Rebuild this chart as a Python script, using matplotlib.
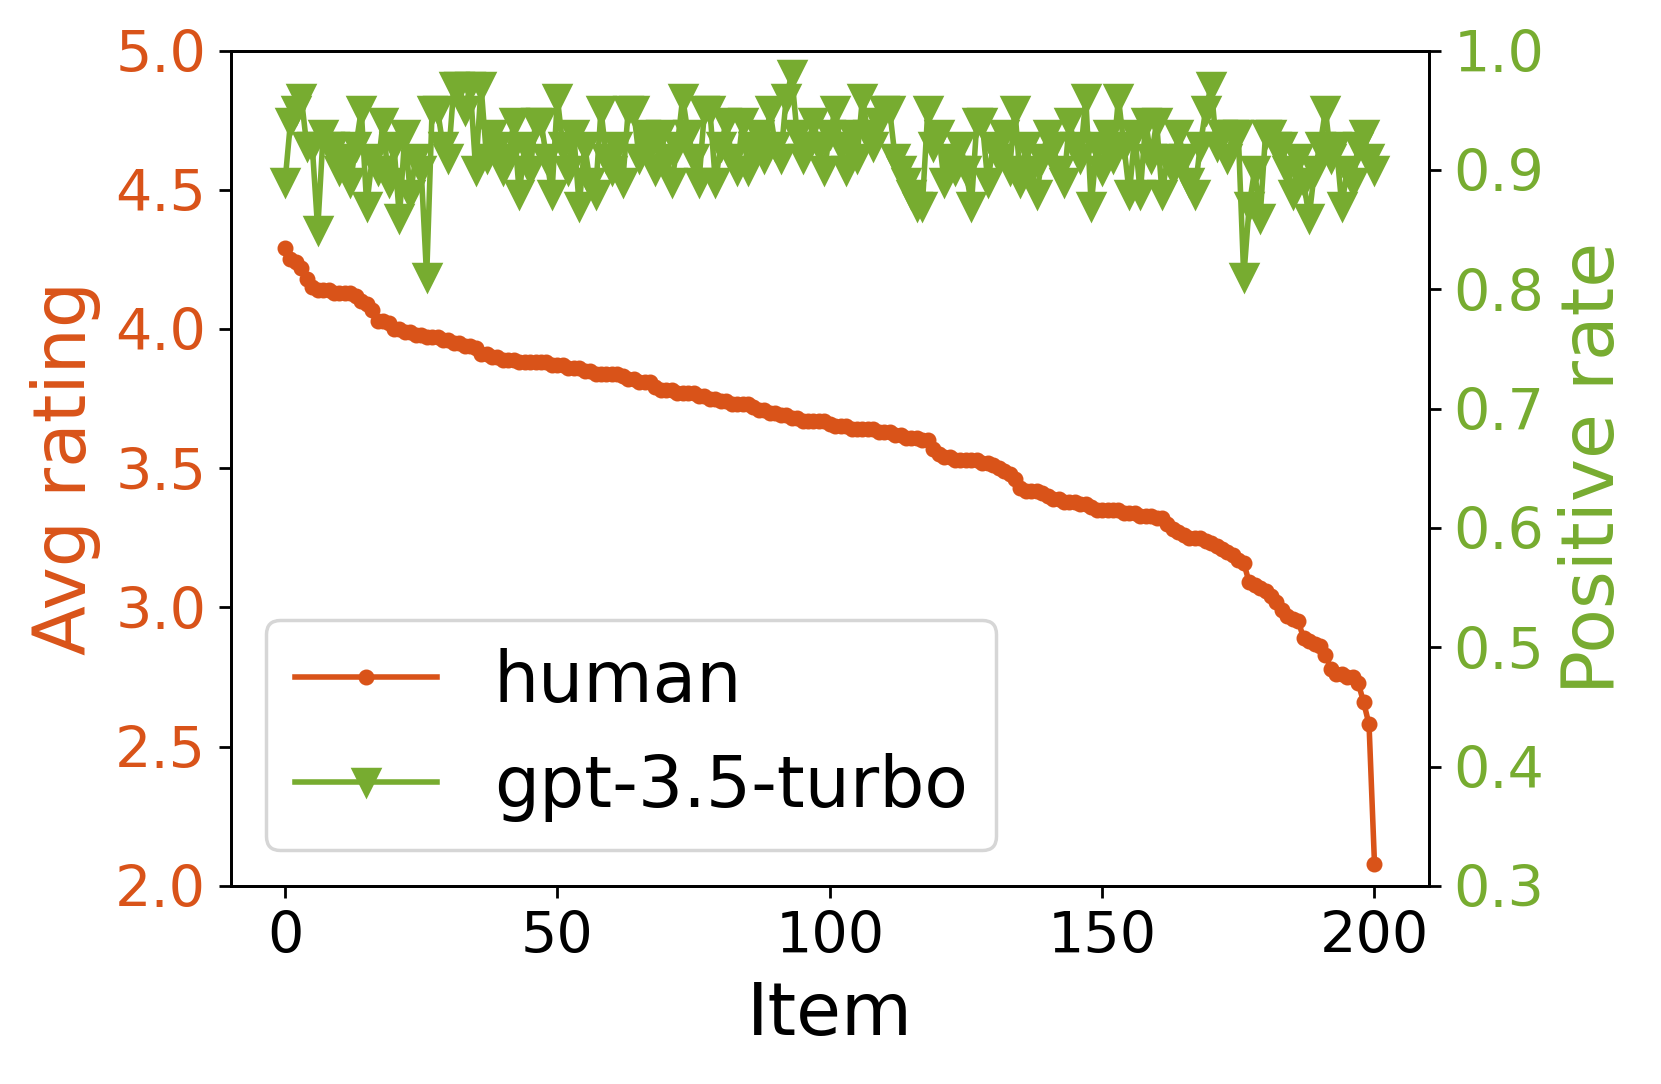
import matplotlib
matplotlib.use("Agg")
import matplotlib.pyplot as plt
import numpy as np

# ---------------- data ----------------
human = [
    4.29, 4.25, 4.24, 4.22, 4.18, 4.15, 4.14, 4.14, 4.14, 4.13,
    4.13, 4.13, 4.13, 4.12, 4.10, 4.09, 4.07, 4.03, 4.03, 4.02,
    4.00, 4.00, 3.99, 3.99, 3.98, 3.98, 3.97, 3.97, 3.97, 3.96,
    3.96, 3.95, 3.95, 3.94, 3.94, 3.93, 3.91, 3.91, 3.90, 3.90,
    3.89, 3.89, 3.89, 3.88, 3.88, 3.88, 3.88, 3.88, 3.88, 3.87,
    3.87, 3.87, 3.86, 3.86, 3.86, 3.85, 3.85, 3.84, 3.84, 3.84,
    3.84, 3.84, 3.83, 3.82, 3.82, 3.81, 3.81, 3.81, 3.79, 3.78,
    3.78, 3.78, 3.77, 3.77, 3.77, 3.77, 3.76, 3.76, 3.75, 3.75,
    3.74, 3.74, 3.73, 3.73, 3.73, 3.73, 3.72, 3.71, 3.71, 3.70,
    3.70, 3.69, 3.69, 3.68, 3.68, 3.67, 3.67, 3.67, 3.67, 3.67,
    3.66, 3.65, 3.65, 3.65, 3.64, 3.64, 3.64, 3.64, 3.64, 3.63,
    3.63, 3.63, 3.62, 3.62, 3.61, 3.61, 3.61, 3.60, 3.60, 3.57,
    3.55, 3.54, 3.54, 3.53, 3.53, 3.53, 3.53, 3.53, 3.52, 3.52,
    3.51, 3.50, 3.49, 3.48, 3.46, 3.43, 3.42, 3.42, 3.42, 3.41,
    3.40, 3.39, 3.39, 3.38, 3.38, 3.38, 3.37, 3.37, 3.36, 3.35,
    3.35, 3.35, 3.35, 3.35, 3.34, 3.34, 3.34, 3.33, 3.33, 3.33,
    3.32, 3.32, 3.30, 3.28, 3.27, 3.26, 3.25, 3.25, 3.25, 3.24,
    3.23, 3.22, 3.21, 3.20, 3.19, 3.17, 3.16, 3.09, 3.08, 3.07,
    3.06, 3.04, 3.02, 2.99, 2.97, 2.96, 2.95, 2.89, 2.88, 2.87,
    2.86, 2.83, 2.78, 2.76, 2.76, 2.75, 2.75, 2.73, 2.66, 2.58,
    2.08,
]

gpt = [
    0.89, 0.94, 0.95, 0.96, 0.92, 0.92, 0.85, 0.93, 0.92, 0.92,
    0.90, 0.91, 0.89, 0.92, 0.95, 0.87, 0.91, 0.90, 0.94, 0.89,
    0.92, 0.86, 0.93, 0.88, 0.91, 0.90, 0.81, 0.95, 0.95, 0.92,
    0.91, 0.97, 0.97, 0.95, 0.97, 0.90, 0.97, 0.91, 0.93, 0.92,
    0.90, 0.91, 0.94, 0.88, 0.92, 0.90, 0.94, 0.94, 0.91, 0.88,
    0.96, 0.92, 0.90, 0.93, 0.87, 0.92, 0.89, 0.88, 0.95, 0.91,
    0.90, 0.92, 0.89, 0.95, 0.95, 0.91, 0.93, 0.92, 0.90, 0.93,
    0.91, 0.89, 0.92, 0.96, 0.93, 0.91, 0.89, 0.95, 0.95, 0.89,
    0.92, 0.94, 0.91, 0.90, 0.94, 0.90, 0.92, 0.93, 0.91, 0.95,
    0.92, 0.91, 0.96, 0.98, 0.93, 0.91, 0.92, 0.94, 0.92, 0.90,
    0.93, 0.95, 0.92, 0.90, 0.93, 0.91, 0.96, 0.93, 0.92, 0.94,
    0.95, 0.95, 0.91, 0.90, 0.89, 0.88, 0.87, 0.87, 0.95, 0.92,
    0.93, 0.89, 0.91, 0.90, 0.92, 0.90, 0.87, 0.94, 0.94, 0.89,
    0.92, 0.91, 0.93, 0.90, 0.95, 0.89, 0.92, 0.90, 0.88, 0.91,
    0.93, 0.92, 0.90, 0.89, 0.94, 0.92, 0.91, 0.96, 0.87, 0.92,
    0.90, 0.93, 0.91, 0.96, 0.92, 0.88, 0.93, 0.88, 0.94, 0.91,
    0.94, 0.88, 0.91, 0.90, 0.93, 0.91, 0.89, 0.88, 0.92, 0.95,
    0.97, 0.92, 0.93, 0.91, 0.93, 0.93, 0.81, 0.87, 0.90, 0.86,
    0.93, 0.93, 0.92, 0.92, 0.90, 0.88, 0.91, 0.89, 0.86, 0.90,
    0.92, 0.95, 0.91, 0.92, 0.87, 0.90, 0.89, 0.92, 0.93, 0.91,
    0.90,
]

items = np.arange(len(human))
left_ticks = [2.0, 2.5, 3.0, 3.5, 4.0, 4.5, 5.0]
right_ticks = [0.3, 0.4, 0.5, 0.6, 0.7, 0.8, 0.9, 1.0]
x_ticks = [0, 50, 100, 150, 200]

ORANGE = "#D95319"
GREEN = "#77AC30"

# ---------------- figure ----------------
DPI = 250
fig = plt.figure(figsize=(1661 / DPI, 1084 / DPI), dpi=DPI)
ax1 = fig.add_axes([0.1388, 0.1827, 0.8603 - 0.1388, 0.9534 - 0.1827])
ax2 = ax1.twinx()

l1, = ax1.plot(items, human, color=ORANGE, marker="o", markersize=3.6,
               linewidth=1.6, label="human")
l2, = ax2.plot(items, gpt, color=GREEN, marker="v", markersize=7.5,
               linewidth=1.6, label="gpt-3.5-turbo")

ax1.set_ylim(2.0, 5.0)
ax2.set_ylim(0.3, 1.0)
ax1.set_yticks(left_ticks)
ax2.set_yticks(right_ticks)
ax1.set_xticks(x_ticks)

ax1.set_xlabel("Item", fontsize=21)
ax1.set_ylabel("Avg rating", fontsize=21, color=ORANGE)
ax2.set_ylabel("Positive rate", fontsize=21, color=GREEN)

ax1.tick_params(axis="x", labelsize=16.5)
ax1.tick_params(axis="y", labelsize=16.5, labelcolor=ORANGE)
ax2.tick_params(axis="y", labelsize=16.5, labelcolor=GREEN)

ax2.legend(handles=[l1, l2], loc="lower left", fontsize=20.5)

fig.savefig("out.png", dpi=DPI)
